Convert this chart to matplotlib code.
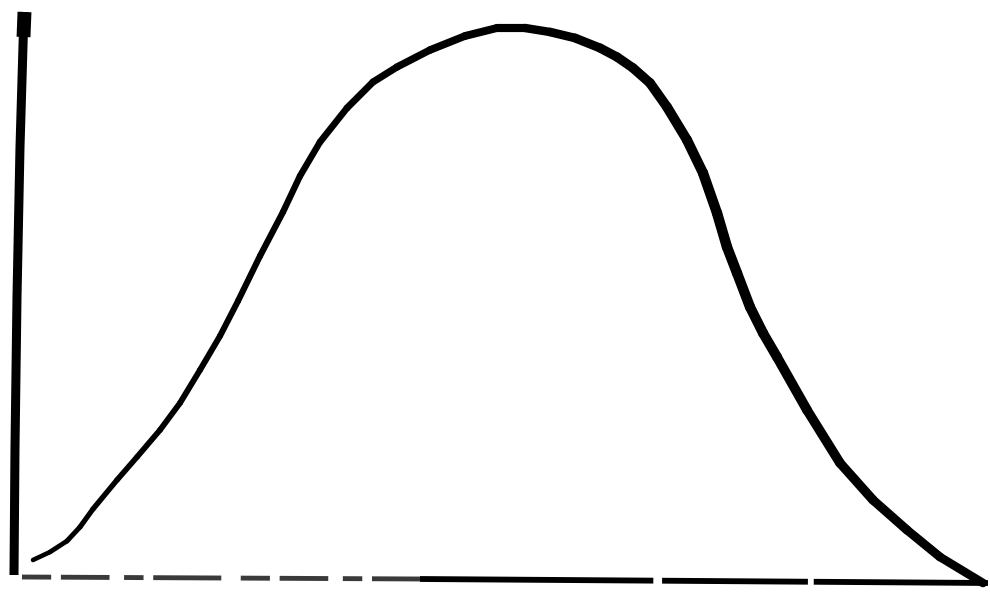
import numpy as np
import matplotlib
matplotlib.use("Agg")
import matplotlib.pyplot as plt
from matplotlib.collections import LineCollection

# hand drawn bell curve (x across, height above bottom edge)
curve_x = [33, 50, 67, 80, 93, 117, 137, 160, 180, 200, 220, 238, 260, 283,
           300, 320, 347, 373, 397, 430, 465, 497, 525, 550, 575, 600, 617,
           633, 650, 667, 687, 703, 717, 727, 737, 750, 763, 777, 807, 840,
           873, 907, 940, 983]
curve_h = [37, 45, 56, 70, 88, 117, 140, 167, 194, 227, 261, 296, 341, 385,
           421, 455, 489, 515, 530, 547, 561, 569, 569, 565, 559, 549, 540,
           529, 514, 490, 457, 424, 384, 350, 324, 290, 264, 240, 187, 134,
           97, 67, 40, 14]

# the two hand drawn axes
yaxis_x = [24, 20, 17, 15, 14]
yaxis_h = [585, 450, 300, 150, 22]
xaxis_x = [22, 420, 988]
xaxis_h = [20, 18, 14]

fig = plt.figure(figsize=(9.9, 5.97), dpi=100)
ax = fig.add_axes([0, 0, 1, 1])
ax.set_xlim(0, 990)
ax.set_ylim(0, 597)
ax.set_axis_off()

# y axis, heavy crayon stroke, a bit fatter at the top
ax.plot(yaxis_x, yaxis_h, color="black", lw=6.5, solid_capstyle="butt")
ax.plot([24.5, 23.5], [585, 560], color="black", lw=10, solid_capstyle="butt")

# x axis: patchy on the left, solid on the right
ax.plot(xaxis_x[:2], xaxis_h[:2], color="#3a3a3a", lw=3.5,
        dashes=(6, 2, 10, 3, 4, 2, 14, 4))
ax.plot(xaxis_x[1:], xaxis_h[1:], color="black", lw=4.2,
        dashes=(40, 1.5, 25, 1, 60, 2))

# curve, stroke gets heavier to the right
pts = np.column_stack([curve_x, curve_h])
segs = np.stack([pts[:-1], pts[1:]], axis=1)
mid = (pts[:-1, 0] + pts[1:, 0]) / 2
widths = np.interp(mid, [30, 120, 300, 500, 720, 990], [3.2, 4.0, 4.6, 5.8, 7.5, 6.0])
lc = LineCollection(segs, linewidths=widths, colors="black", capstyle="round",
                    joinstyle="round")
ax.add_collection(lc)

fig.savefig("out.png", dpi=100, facecolor="white")
